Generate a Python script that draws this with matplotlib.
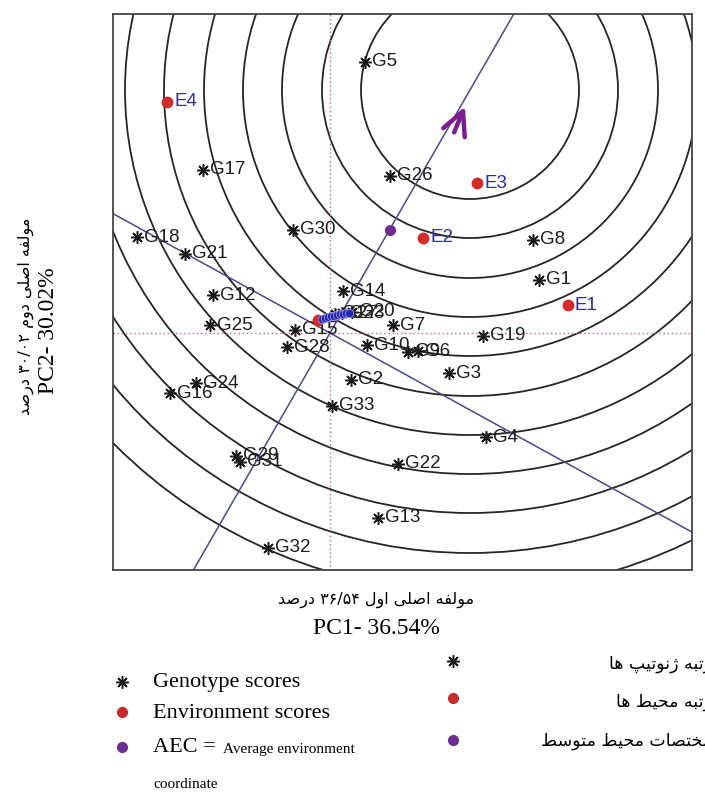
import re

import matplotlib
matplotlib.use("Agg")
import matplotlib.pyplot as plt
from matplotlib.patches import Circle, FancyArrowPatch

# genotype scores (PC1, PC2)
geno_names = ["G1", "G2", "G3", "G4", "G5", "G6", "G7", "G8", "G9", "G10",
              "G12", "G13", "G14", "G15", "G16", "G17", "G18", "G19", "G20", "G21",
              "G22", "G23", "G24", "G25", "G26", "G27", "G28", "G29", "G30", "G31",
              "G32", "G33"]
geno_x = [2.09, 0.21, 1.19, 1.56, 0.35, 0.88, 0.63, 2.03, 0.78, 0.37,
          -1.17, 0.48, 0.13, -0.35, -1.60, -1.27, -1.93, 1.53, 0.22, -1.45,
          0.68, 0.12, -1.34, -1.20, 0.60, 0.05, -0.43, -0.94, -0.37, -0.90,
          -0.62, 0.02]
geno_y = [0.53, -0.47, -0.40, -1.04, 2.71, -0.18, 0.08, 0.93, -0.19, -0.12,
          0.38, -1.85, 0.42, 0.03, -0.60, 1.63, 0.96, -0.03, 0.21, 0.79,
          -1.31, 0.20, -0.50, 0.08, 1.57, 0.19, -0.14, -1.23, 1.03, -1.29,
          -2.15, -0.73]

# environment scores
env_names = ["E1", "E2", "E3", "E4", ""]
env_x = [2.38, 0.93, 1.47, -1.63, -0.12]
env_y = [0.28, 0.95, 1.50, 2.31, 0.13]

# overlapping blue points near the origin
blob_x = [-0.08, -0.05, -0.02, 0.01, 0.04, 0.07, 0.10, 0.13, 0.16, 0.19]
blob_y = [0.14, 0.15, 0.16, 0.17, 0.17, 0.18, 0.19, 0.19, 0.20, 0.20]

aec_x, aec_y = 0.60, 1.03          # average environment coordinate
ideal_x, ideal_y = 1.40, 2.43      # centre of the rings (ideal genotype)
ring_r = [1.09, 1.48, 1.88, 2.27, 2.66, 3.06, 3.45, 3.84, 4.23, 4.63, 5.02]
ord_slope = -0.55

pc1_fa = "مولفه اصلی اول ۳۶/۵۴ درصد"
pc2_fa = "مولفه اصلی دوم ۳۰/۰۲ درصد"
pc1_en = "PC1- 36.54%"
pc2_en = "PC2- 30.02%"
legend_en = ["Genotype scores", "Environment scores", "AEC ="]
legend_fa = ["رتبه ژنوتیپ ها", "رتبه محیط ها", "مختصات محیط متوسط"]

# --- minimal Persian shaping (matplotlib has no bidi / joining) ---
FORMS = {
    "ا": ("\uFE8D", "\uFE8E", None, None),
    "ب": ("\uFE8F", "\uFE90", "\uFE91", "\uFE92"),
    "پ": ("\uFB56", "\uFB57", "\uFB58", "\uFB59"),
    "ت": ("\uFE95", "\uFE96", "\uFE97", "\uFE98"),
    "ح": ("\uFEA1", "\uFEA2", "\uFEA3", "\uFEA4"),
    "خ": ("\uFEA5", "\uFEA6", "\uFEA7", "\uFEA8"),
    "د": ("\uFEA9", "\uFEAA", None, None),
    "ر": ("\uFEAD", "\uFEAE", None, None),
    "ژ": ("\uFB8A", "\uFB8B", None, None),
    "س": ("\uFEB1", "\uFEB2", "\uFEB3", "\uFEB4"),
    "ص": ("\uFEB9", "\uFEBA", "\uFEBB", "\uFEBC"),
    "ط": ("\uFEC1", "\uFEC2", "\uFEC3", "\uFEC4"),
    "ف": ("\uFED1", "\uFED2", "\uFED3", "\uFED4"),
    "ل": ("\uFEDD", "\uFEDE", "\uFEDF", "\uFEE0"),
    "م": ("\uFEE1", "\uFEE2", "\uFEE3", "\uFEE4"),
    "ن": ("\uFEE5", "\uFEE6", "\uFEE7", "\uFEE8"),
    "ه": ("\uFEE9", "\uFEEA", "\uFEEB", "\uFEEC"),
    "و": ("\uFEED", "\uFEEE", None, None),
    "ی": ("\uFBFC", "\uFBFD", "\uFBFE", "\uFBFF"),
}


def fa(text):
    out = []
    for i, ch in enumerate(text):
        if ch not in FORMS:
            out.append(ch)
            continue
        prev = text[i - 1] if i > 0 else ""
        nxt = text[i + 1] if i < len(text) - 1 else ""
        jp = prev in FORMS and FORMS[prev][2] is not None
        jn = FORMS[ch][2] is not None and nxt in FORMS
        f = FORMS[ch]
        out.append(f[3] if jp and jn else f[1] if jp else f[2] if jn else f[0])
    vis = "".join(out)[::-1]
    return re.sub(r"[0-9۰-۹/.%]+", lambda m: m.group(0)[::-1], vis)


W, H = 705, 794
fig = plt.figure(figsize=(W / 100, H / 100), dpi=100)
ax = fig.add_axes([113 / W, 1 - 570 / H, 579 / W, 556 / H])
ax.set_xlim(-2.17, 3.62)
ax.set_ylim(-2.37, 3.19)
ax.set_xticks([])
ax.set_yticks([])
for s in ax.spines.values():
    s.set_color("#444444")
    s.set_linewidth(1.3)

for r in ring_r:
    ax.add_patch(Circle((ideal_x, ideal_y), r, fill=False, ec="#262626", lw=1.3, zorder=1))

ax.axhline(0, color="#c46a6a", ls=(0, (1, 2)), lw=1, zorder=2)
ax.axvline(0, color="#c46a6a", ls=(0, (1, 2)), lw=1, zorder=2)
ax.axline((0, 0), (ideal_x, ideal_y), color="#4b4b8c", lw=1.1, zorder=2)
ax.axline((0, 0), slope=ord_slope, color="#4b4b8c", lw=1.1, zorder=2)

# purple chevron arrowhead on the AEC axis, pointing at the ideal genotype
ax.add_patch(FancyArrowPatch((ideal_x - 0.17, ideal_y - 0.45), (ideal_x - 0.04, ideal_y - 0.14),
                             arrowstyle="->,head_length=1.2,head_width=0.6",
                             color="#7b1f8f", lw=3.2, mutation_scale=14, zorder=4))

ax.plot(geno_x, geno_y, ls="none", marker=(8, 2, 0), ms=9, mew=1.1, color="#1a1a1a", zorder=3)
for n, x, y in zip(geno_names, geno_x, geno_y):
    ax.text(x + 0.07, y, n, fontsize=13.5, family="Liberation Sans", color="#1e1e1e",
            va="center", ha="left", zorder=5)

ax.plot(blob_x, blob_y, ls="none", marker="o", ms=6, mfc="#2424b8", mec="#9a9ae0", mew=0.6, zorder=6)
ax.plot(env_x, env_y, ls="none", marker="o", ms=7.5, color="#d32a2a", zorder=5)
for n, x, y in zip(env_names, env_x, env_y):
    ax.text(x + 0.07, y, n, fontsize=13.5, family="Liberation Sans", color="#2e2e9e",
            va="center", ha="left", zorder=5)
ax.plot([aec_x], [aec_y], ls="none", marker="o", ms=7, color="#6b2d8e", zorder=5)

# figure-level texts and legend in pixel coordinates
lay = fig.add_axes([0, 0, 1, 1])
lay.set_xlim(0, W)
lay.set_ylim(H, 0)
lay.axis("off")
lay.patch.set_visible(False)

lay.text(376, 600, fa(pc1_fa), fontsize=11.5, family="DejaVu Sans", ha="center", va="center")
lay.text(376, 628, pc1_en, fontsize=17, family="Liberation Serif", ha="center", va="center")
lay.text(26, 316, fa(pc2_fa), fontsize=11.5, family="DejaVu Sans", ha="center", va="center", rotation=90)
lay.text(49, 331, pc2_en, fontsize=17, family="Liberation Serif", ha="center", va="center", rotation=90)

lay.plot([122], [682], marker=(8, 2, 0), ms=9, mew=1.1, color="#1a1a1a")
lay.plot([122], [712], marker="o", ms=7, color="#c62a2a")
lay.plot([122], [747], marker="o", ms=7, color="#6b2d8e")
lay.text(153, 682, legend_en[0], fontsize=16, family="Liberation Serif", va="center")
lay.text(153, 714, legend_en[1], fontsize=16, family="Liberation Serif", va="center")
lay.text(153, 748, legend_en[2], fontsize=16, family="Liberation Serif", va="center")
lay.text(223, 750, "Average environment", fontsize=11, family="Liberation Serif", va="center")
lay.text(153, 785, "coordinate", fontsize=11, family="Liberation Serif", va="center")

lay.plot([453], [661], marker=(8, 2, 0), ms=9, mew=1.1, color="#1a1a1a")
lay.plot([453], [698], marker="o", ms=7, color="#c62a2a")
lay.plot([453], [740], marker="o", ms=7, color="#6b2d8e")
for t, y in zip(legend_fa, [664, 702, 741]):
    lay.text(712, y, fa(t), fontsize=12.5, family="DejaVu Sans", ha="right", va="center")

fig.savefig("out.png", dpi=100)
